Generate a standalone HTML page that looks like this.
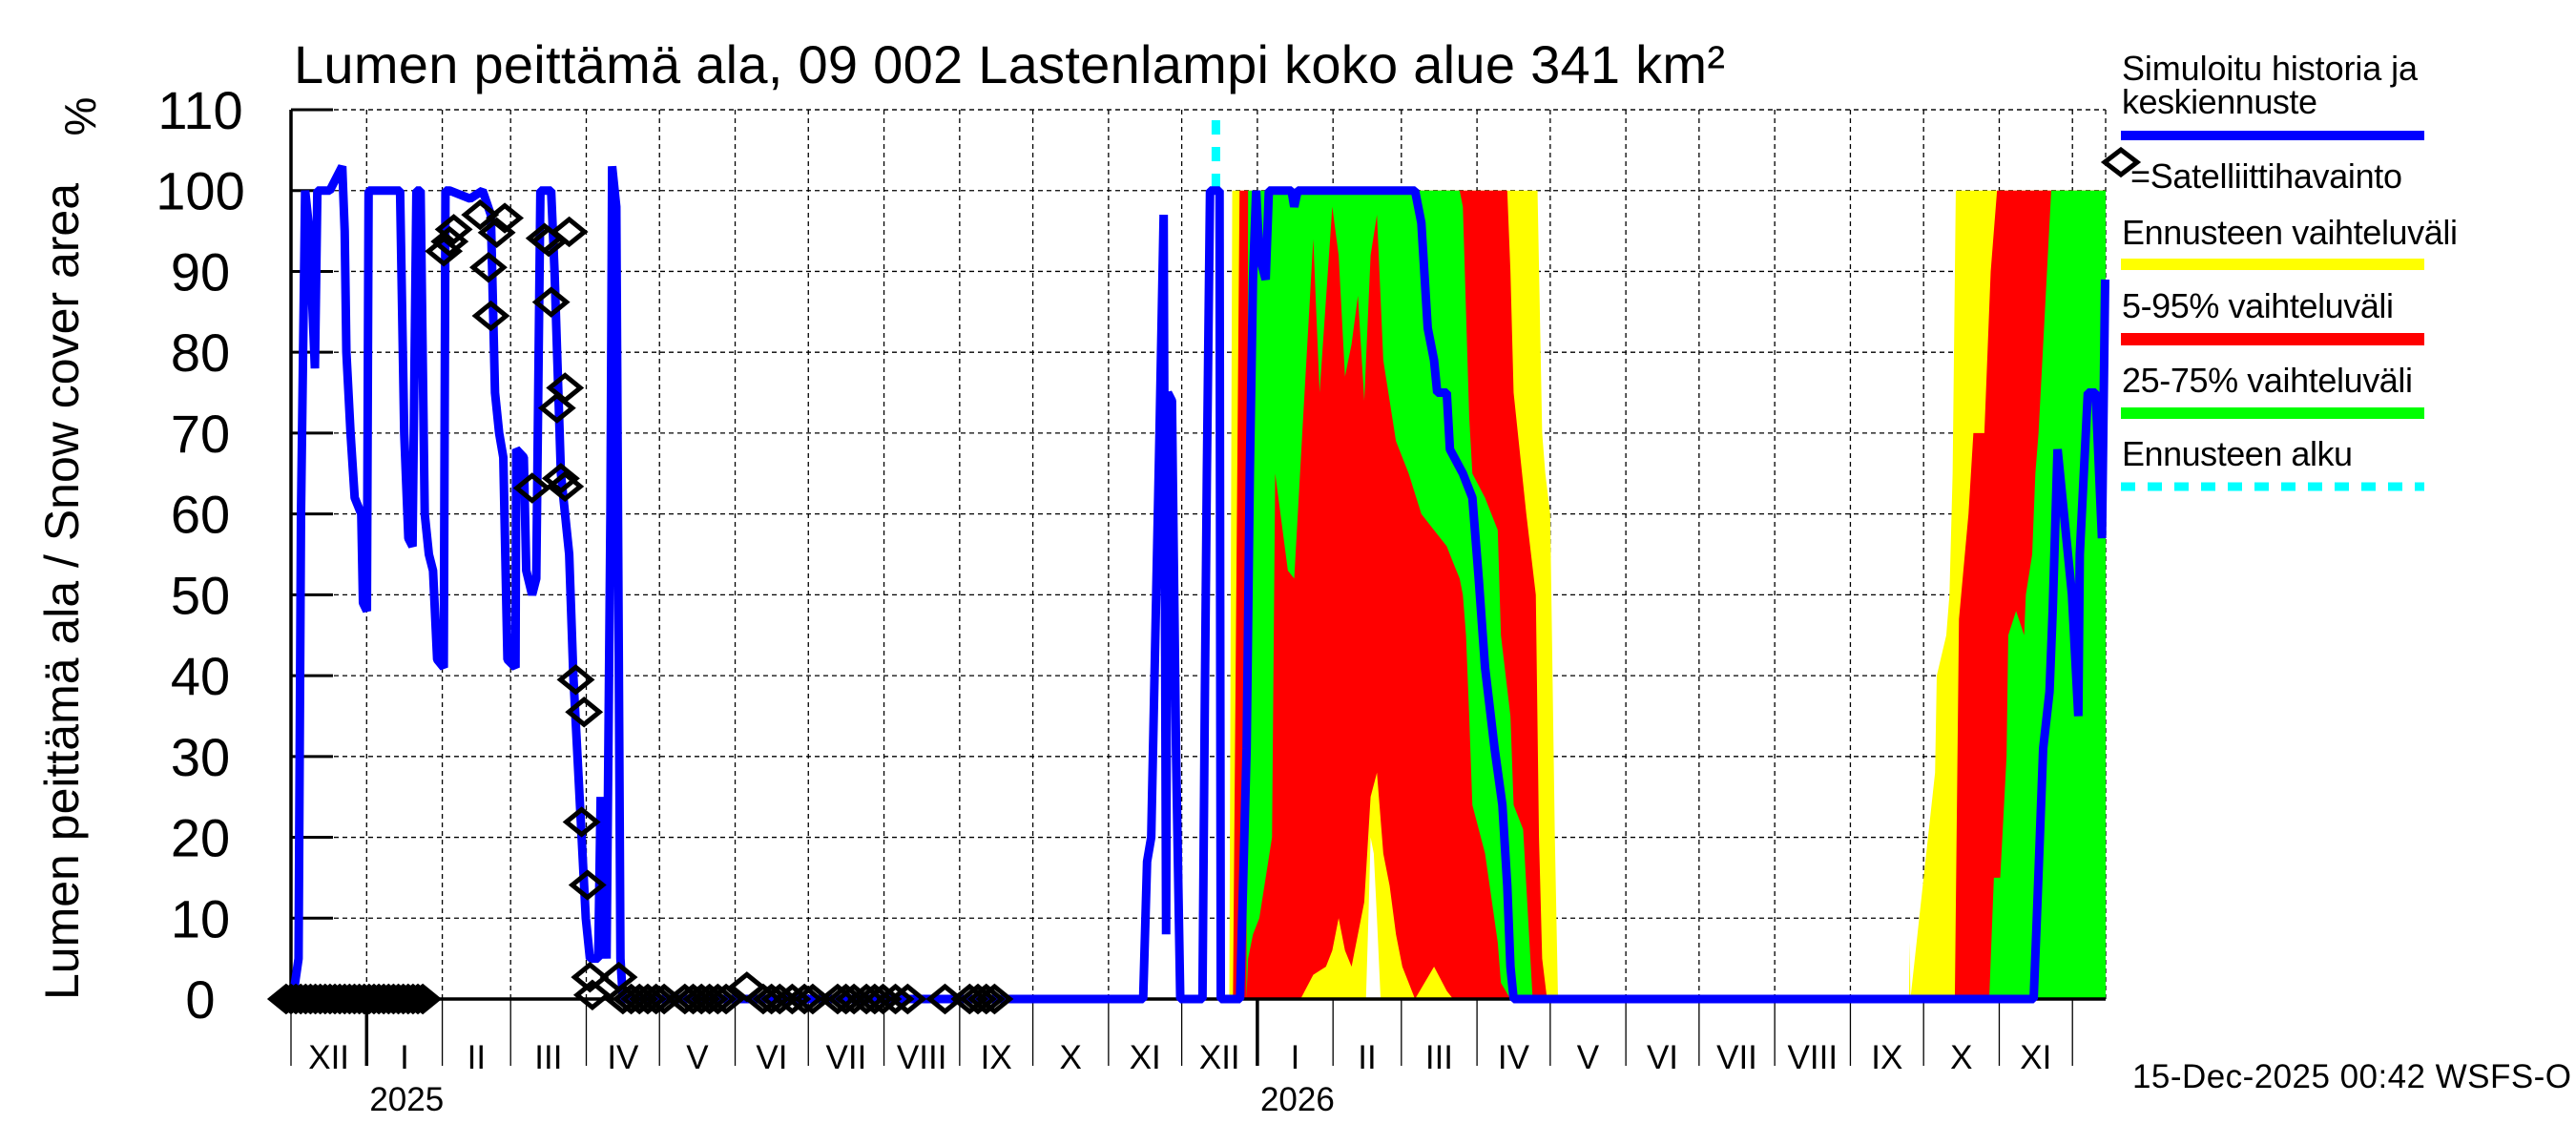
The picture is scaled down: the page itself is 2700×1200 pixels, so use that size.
<!DOCTYPE html>
<html><head><meta charset="utf-8"><title>Lumen peittämä ala</title>
<style>
html,body{margin:0;padding:0;background:#fff;}
svg{display:block;font-family:"Liberation Sans",Arial,sans-serif;}
</style></head>
<body>
<svg id="chart" xmlns="http://www.w3.org/2000/svg" width="2700" height="1200" viewBox="0 0 2700 1200">
<rect x="0" y="0" width="2700" height="1200" fill="#fff"/>
<text x="308" y="87" font-size="56" textLength="1500">Lumen peittämä ala, 09 002 Lastenlampi koko alue 341 km²</text>
<text transform="translate(82,620) rotate(-90)" text-anchor="middle" font-size="50">Lumen peittämä ala / Snow cover area</text>
<text transform="translate(100,122) rotate(-90)" text-anchor="middle" font-size="46">%</text>
<g id="grid"></g>
<g id="bands"></g>
<g id="axes"></g>
<g id="series"></g>
<g id="legend">
<text x="2224" y="84" font-size="36" textLength="310">Simuloitu historia ja</text>
<text x="2224" y="119" font-size="36" textLength="205">keskiennuste</text>
<rect x="2223" y="137" width="318" height="10" fill="#0000ff"/>
<polygon points="2206,170 2223,157 2240,170 2223,183" fill="none" stroke="#000" stroke-width="5"/>
<text x="2233" y="197" font-size="36" textLength="285">=Satelliittihavainto</text>
<text x="2224" y="256" font-size="36" textLength="352">Ennusteen vaihteluväli</text>
<rect x="2223" y="271" width="318" height="12" fill="#ffff00"/>
<text x="2224" y="333" font-size="36" textLength="285">5-95% vaihteluväli</text>
<rect x="2223" y="349" width="318" height="13" fill="#ff0000"/>
<text x="2224" y="411" font-size="36" textLength="305">25-75% vaihteluväli</text>
<rect x="2223" y="427" width="318" height="12" fill="#00ff00"/>
<text x="2224" y="488" font-size="36" textLength="242">Ennusteen alku</text>
<line x1="2223" y1="510" x2="2541" y2="510" stroke="#00ffff" stroke-width="9" stroke-dasharray="15,13"/>
</g>
<text x="2235" y="1140" font-size="35" textLength="460">15-Dec-2025 00:42 WSFS-O</text>
</svg>
<script>
// ---- data ----
const yTicks = [0,10,20,30,40,50,60,70,80,90,100,110];
const monthLabels = ["XII","I","II","III","IV","V","VI","VII","VIII","IX","X","XI","XII","I","II","III","IV","V","VI","VII","VIII","IX","X","XI"];
const yearLabels = ["2025","2026"];
const forecastStartDay = 379;
// blue simulated history + median forecast (day index from 2024-12-01, value %)
const blueDays = [0.7,3.1,4.1,5.8,7.5,9.8,10.8,15.9,21,22,22.7,24.4,26.1,28.8,29.5,31.1,31.8,44.7,46.4,48.1,49.8,51.4,53.1,54.8,56.5,58.2,59.9,62.6,63.3,65,73.4,78.5,81.9,83.6,85.3,87,88.7,92,92.3,95.4,96.4,98.8,100.5,102.2,106.6,108,110.6,114,115.7,117.4,119.1,120.8,122.5,125.9,126.9,129.3,130.9,131.6,133.3,135,136,
 349.2,350.8,352.5,354.2,355.9,357.6,358.6,359.3,361,362.7,364.4,373.5,374.5,375.3,376.6,380.5,381,388.9,391.6,392.9,394.2,395.5,396.8,399.4,400.7,410,411.1,412.5,460.6,463.2,465.8,468.4,469.7,473.6,474.9,480.2,484.1,486.7,489.3,493.2,496.4,498.4,499.7,501,
 714.1,715.4,718,720.6,721.9,723.9,729.8,732.4,733,736.3,739.5,742.1,743.4];
const blueVals = [0,5,60,100,95,78,100,100,103,95,80,70,62,60,49,48,100,100,70,57,56,100,100,60,55,53,42,41,100,100,99,100,97,75,70,67,42,41,68,67,53,50,52,100,100,90,65,55,40,30,20,10,5,5,25,5,60,103,98,5,0,
 0,17,20,45,70,97,8,75,74,30,0,0,38,65,100,100,0,0,31,65,89,100,92,89,100,100,98,100,100,96,83,79,75,75,68,65,62,52,41,31,24,14,4,0,
 0,10,31,38,48,68,50,35,55,75,75,57,89];
// satellite observations
const satDays = [-2,0,2,4,6,8,10,12,14,16,18,20,22,24,26,28,30,32,34,36,38,40,42,44,46,48,50,52,54,
 62.6,65,66.7,77.5,80.9,81.9,84.3,87.6,98.8,103.9,105.6,106.6,109,112.3,110.6,112.3,114,116.7,120.1,119.1,121.5,122.5,123.5,134.3,186.8,
 136,139.4,142.8,146.2,149.6,152.9,161.4,164.8,168.2,171.5,174.9,178.3,193.5,196.9,200.3,205.4,210.4,213.8,224,227.4,230.7,235.8,239.2,242.6,247.7,252.7,268,278.1,281.5,284.9,288.3];
const satVals = [0,0,0,0,0,0,0,0,0,0,0,0,0,0,0,0,0,0,0,0,0,0,0,0,0,0,0,0,0,
 92.5,93.7,95.2,97,90.5,84.5,94.8,96.6,63.2,94.1,93.7,86.2,73.1,75.6,64.4,63.4,94.9,39.5,35.5,21.9,14.1,2.7,0.5,2.7,1.5,
 0,0,0,0,0,0,0,0,0,0,0,0,0,0,0,0,0,0,0,0,0,0,0,0,0,0,0,0,0,0,0];
// forecast range bands (yellow = full range)
const yellowDays1 = [384.5,385.7,510.8,512.7,514,516,517.9,519.2];
const yellowHi1   = [0,100,100,70,65,60,20,0];
const yellowLo1   = [0,0,0,0,0,0,0,0];
const yellowGapDays = [440.5,441.5,442.4,443.7,445,446.5];
const yellowGapHi   = [0,10,20,18,10,0];
const yellowDays2 = [663,663.3,663.6,673.7,674.4,678.3,679.6,680.9,682.2,743.6];
const yellowHi2   = [0,7,0,28,40,45,50,65,100,100];
// 5-95%
const redDays1 = [386,388.7,413.7,418.9,424.1,426.7,429.3,431.9,434.6,439.8,442.4,445,447.6,450.2,452.8,455.4,458,460.6,468.4,473.6,476.2,498.4,499.7,501,506.2,510.1,511.4,512.7,514.7];
const redHi1   = [0,100,100,100,100,100,100,100,100,100,100,100,100,100,100,100,100,100,100,100,100,100,90,75,60,50,20,5,0];
const redLo1   = [0,0,0,3,4,6,10,6,4,12,25,28,18,14,8,4,2,0,4,1,0,0,0,0,0,0,0,0,0];
const redDays2 = [681.8,683.5,687.4,689.4,693.9,695.2,696.5,699.1,743.6];
const redHi2   = [0,47,60,70,70,80,90,100,100];
// 25-75%
const greenDays1 = [391.5,392.2,394.2,396.8,402,403.3,408.5,411.1,414.4,418.9,421.5,426.7,429.3,431.9,434.6,437.2,439.8,442.4,445,447.6,452.8,458,463.2,468.4,473.6,476.2,478.9,480.2,481.5,482.8,484.1,489.3,494.5,495.8,499.7,501,504.9,507.5,508.8];
const greenHi1   = [0,100,100,100,100,100,100,100,100,100,100,100,100,100,100,100,100,100,100,100,100,100,100,100,100,100,100,98,85,72,65,62,58,45,35,24,21,7,0];
const greenLo1   = [0,5,8,10,20,65,53,52,70,94,75,98,92,77,81,87,74,92,97,79,69,65,60,58,56,54,52,50,45,35,24,18,7,2,0,0,0,0,0];
const greenDays2 = [695.9,697.8,700.4,703,703.7,706.9,710.2,710.9,713.5,714.8,716.1,718.7,721.3,743.6];
const greenHi2   = [0,15,15,30,45,48,45,50,55,65,70,85,100,100];

// ---- geometry ----
const X0 = 305, X1 = 2207, Y0 = 1047, Y110 = 115;
const DAY_END = 743.6;
const NS = "http://www.w3.org/2000/svg";
function xs(d){ return X0 + d/DAY_END*(X1-X0); }
function ys(v){ return Y0 - v/110*(Y0-Y110); }
function mk(tag, attrs, parent){
  const e = document.createElementNS(NS, tag);
  for (const k in attrs) e.setAttribute(k, attrs[k]);
  parent.appendChild(e); return e;
}
const start = Date.UTC(2024,11,1);
const monthStarts = [];
for (let i=0;i<=25;i++){ const d=Date.UTC(2024,11+i,1); monthStarts.push((d-start)/86400000); }

const grid = document.getElementById('grid');
const axes = document.getElementById('axes');
const bands = document.getElementById('bands');
const series = document.getElementById('series');

yTicks.forEach(v=>{
  const y = ys(v);
  if (v>0){
    const l = mk('line',{x1:X0,x2:X1,y1:y,y2:y,stroke:'#000','stroke-width':1.3,'stroke-dasharray':'5,4'},grid);
    
    
  }
  const t = mk('line',{x1:X0,x2:X0+44,y1:y,y2:y,stroke:'#000','stroke-width':3},axes);
  
  
  const tx = mk('text',{x:210,y:y+20,'text-anchor':'middle','font-size':56},axes);
  tx.textContent = v;
  
  
});
monthStarts.forEach((d,i)=>{
  if (d>DAY_END) return;
  const x = xs(d);
  if (i>0){
    const g = mk('line',{x1:x,x2:x,y1:Y110,y2:Y0,stroke:'#000','stroke-width':1.3,'stroke-dasharray':'5,4'},grid);
    
    
  }
  const isYear = (i===1 || i===13);
  const tk = mk('line',{x1:x,x2:x,y1:Y0,y2:1117,stroke:'#000','stroke-width':isYear?3.5:1.3},axes);
  
  
  if (i<monthLabels.length && monthStarts[i+1] <= DAY_END+1){
    const lt = mk('text',{x:(x+xs(monthStarts[i+1]))/2,y:1120,'text-anchor':'middle','font-size':35},axes);
    lt.textContent = monthLabels[i];
    
    
  }
});
[1,13].forEach((mi,k)=>{
  const yt = mk('text',{x:xs(monthStarts[mi])+42,y:1164,'text-anchor':'middle','font-size':35},axes);
  yt.textContent = yearLabels[k];
  
  
});
const ax = mk('line',{x1:X0,x2:X0,y1:Y110,y2:Y0,stroke:'#000','stroke-width':3.5},axes);


const bx = mk('line',{x1:X0,x2:X1,y1:Y0,y2:Y0,stroke:'#000','stroke-width':3.5},axes);


const tb = mk('line',{x1:X0,x2:X1,y1:Y110,y2:Y110,stroke:'#000','stroke-width':1.3,'stroke-dasharray':'5,4'},grid);


const rb = mk('line',{x1:X1,x2:X1,y1:Y110,y2:Y0,stroke:'#000','stroke-width':1.3,'stroke-dasharray':'5,4'},grid);



function area(days, hi, lo, color, name, parent){
  let pts = days.map((d,i)=>xs(d)+','+ys(hi[i]));
  for (let i=days.length-1;i>=0;i--) pts.push(xs(days[i])+','+ys(lo ? lo[i] : 0));
  const p = mk('polygon',{points:pts.join(' '),fill:color},parent);
  
  
}
area(yellowDays1,yellowHi1,yellowLo1,'#ffff00','band-full-range-1',bands);
area(yellowDays2,yellowHi2,null,'#ffff00','band-full-range-2',bands);
area(redDays1,redHi1,redLo1,'#ff0000','band-5-95-1',bands);
area(yellowGapDays,yellowGapHi,null,'#ffffff','band-full-range-gap',bands);
area(redDays2,redHi2,null,'#ff0000','band-5-95-2',bands);
area(greenDays1,greenHi1,greenLo1,'#00ff00','band-25-75-1',bands);
area(greenDays2,greenHi2,null,'#00ff00','band-25-75-2',bands);

const fs = mk('line',{x1:xs(forecastStartDay),x2:xs(forecastStartDay),y1:126,y2:ys(100),stroke:'#00ffff','stroke-width':9,'stroke-dasharray':'15,13'},series);



const bl = mk('polyline',{points:blueDays.map((d,i)=>xs(d)+','+ys(blueVals[i])).join(' '),fill:'none',stroke:'#0000ff','stroke-width':9,'stroke-linejoin':'bevel'},series);



satDays.forEach((d,i)=>{
  const x = xs(d), y = ys(satVals[i]);
  const p = mk('polygon',{points:`${x-16},${y} ${x},${y-13} ${x+16},${y} ${x},${y+13}`,fill:'none',stroke:'#000','stroke-width':5},series);
  
  
});
</script>
</body></html>
